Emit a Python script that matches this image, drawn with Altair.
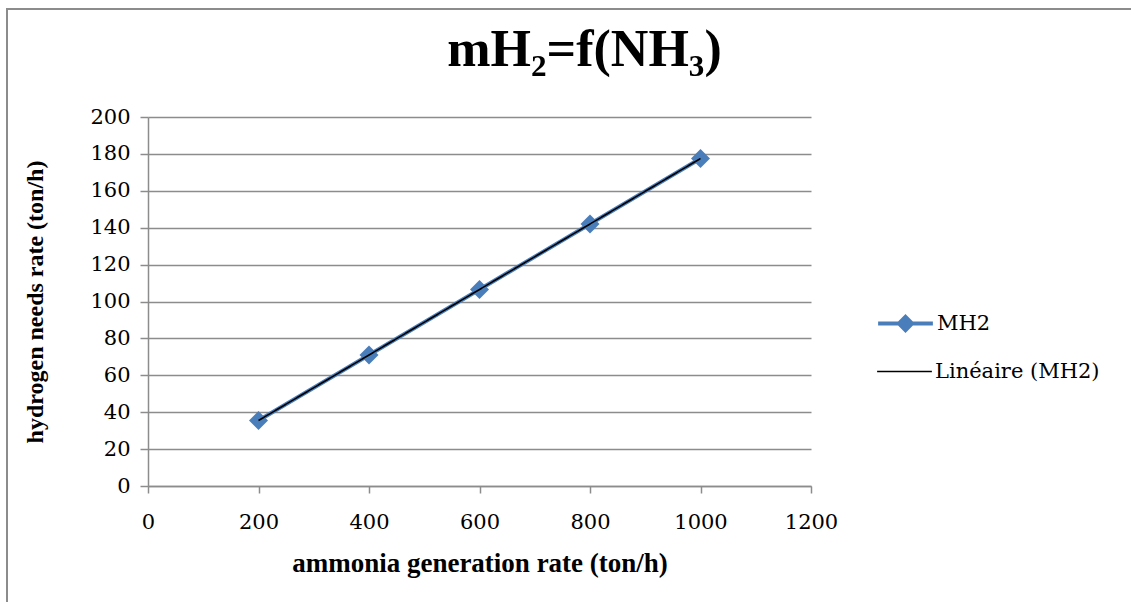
import altair as alt
import pandas as pd

ammonia = [200, 400, 600, 800, 1000]
hydrogen = [35.5, 71.0, 106.5, 142.0, 177.5]
series_name = ["MH2"] * 5
trend_name = "Linéaire (MH2)"
x_ticks = [0, 200, 400, 600, 800, 1000, 1200]
y_ticks = [0, 20, 40, 60, 80, 100, 120, 140, 160, 180, 200]

df = pd.DataFrame({"x": ammonia, "y": hydrogen, "series": series_name})

BLUE = "#4a7ebb"
GRAY = "#8c8c8c"
TICK_FONT = "DejaVu Serif"
TITLE_FONT = "Liberation Serif"

x_enc = alt.X("x:Q", scale=alt.Scale(domain=[0, 1200], nice=False),
              axis=alt.Axis(title="ammonia generation rate (ton/h)", values=x_ticks, tickCount=20,
                            format="d", labelOverlap=False, labelFlush=False, titleFontSize=27,
                            grid=False, tickSize=7, labelPadding=18, titlePadding=18))
y_enc = alt.Y("y:Q", scale=alt.Scale(domain=[0, 200], nice=False),
              axis=alt.Axis(title="hydrogen needs rate (ton/h)", values=y_ticks, tickCount=20,
                            format="d", labelOverlap=False, labelFlush=False, titleFontSize=24,
                            grid=True, tickSize=8, labelPadding=10, titlePadding=42))

diamond_line = "M-1,0L1,0M0,-0.24L0.24,0L0,0.24L-0.24,0Z"

base = alt.Chart(df)

data_line = base.mark_line(color=BLUE, strokeWidth=4).encode(
    x=x_enc, y=y_enc,
    color=alt.Color("series:N", scale=alt.Scale(domain=["MH2"], range=[BLUE]),
                    legend=alt.Legend(title=None, orient="none", legendX=728, legendY=177,
                                      symbolType=diamond_line, symbolSize=3000, symbolStrokeWidth=4,
                                      symbolFillColor=BLUE, symbolStrokeColor=BLUE,
                                      labelFont=TICK_FONT, labelFontSize=21, labelColor="black",
                                      labelOffset=2, labelLimit=300)),
)
points = base.mark_point(shape="diamond", filled=True, size=360, color=BLUE, opacity=1).encode(
    x=x_enc, y=y_enc)

trend = base.transform_regression("x", "y", extent=[200, 1000]).transform_calculate(
    trend=f"'{trend_name}'"
).mark_line(color="black", strokeWidth=1.6).encode(
    x=x_enc, y=y_enc,
    strokeDash=alt.StrokeDash("trend:N", scale=alt.Scale(domain=[trend_name], range=[[1, 0]]),
                              legend=alt.Legend(title=None, orient="none", legendX=728, legendY=226,
                                                symbolType="stroke", symbolSize=3000, symbolStrokeWidth=1.6,
                                                symbolStrokeColor="black",
                                                labelFont=TICK_FONT, labelFontSize=21, labelColor="black",
                                                labelOffset=2, labelLimit=300)),
)

border_left = alt.Chart(df).mark_rule(color=GRAY, strokeWidth=2).encode(
    x=alt.value(-141), y=alt.value(-109), y2=alt.value(485))
border_top = alt.Chart(df).mark_rule(color=GRAY, strokeWidth=2).encode(
    x=alt.value(-141), x2=alt.value(983), y=alt.value(-108))

chart = alt.layer(data_line, points, trend, border_left, border_top).resolve_legend(
    color="independent", strokeDash="independent"
).properties(
    width=663, height=369,
    background="white",
    title=alt.TitleParams(text="mH₂=f(NH₃)", font=TITLE_FONT, fontSize=52, fontWeight="bold",
                          color="black", anchor="middle", dx=105, offset=0, dy=111,
                          baseline="alphabetic"),
    autosize=alt.AutoSizeParams(type="none"),
    padding={"left": 148, "top": 117, "right": 320, "bottom": 116},
).configure_view(stroke=None).configure_axis(
    domainColor=GRAY, domainWidth=1.5, tickColor=GRAY, tickWidth=1.5,
    gridColor=GRAY, gridWidth=1.5, gridOpacity=1,
    labelFont=TICK_FONT, labelFontSize=21, labelColor="black",
    titleFont=TITLE_FONT, titleFontWeight="bold", titleColor="black",
)

chart.save("out.html", embed_options={"renderer": "svg", "actions": False})
